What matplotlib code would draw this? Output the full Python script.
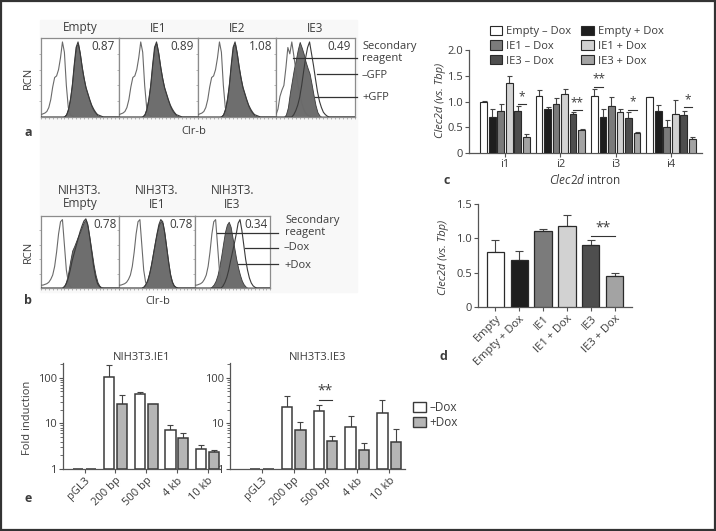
import numpy as np
import matplotlib
matplotlib.use('Agg')
import matplotlib.pyplot as plt
from matplotlib.patches import Rectangle, Patch

plt.rcParams['font.family'] = ['Open Sans', 'DejaVu Sans']
plt.rcParams['mathtext.fontset'] = 'custom'
plt.rcParams['mathtext.it'] = 'Open Sans:italic'
plt.rcParams['mathtext.rm'] = 'Open Sans'
TXT = '#3c3c3c'
plt.rcParams['text.color'] = TXT
plt.rcParams['xtick.color'] = '#555555'
plt.rcParams['ytick.color'] = '#555555'
plt.rcParams['xtick.labelcolor'] = TXT
plt.rcParams['ytick.labelcolor'] = TXT

# ---------------- data ----------------
# flow histograms (relative cell number, %) sampled on channel grid 0..100 step 2.5
channel = np.arange(0, 100.1, 2.5)
a_titles = ['Empty', 'IE1', 'IE2', 'IE3']
a_ratios = ['0.87', '0.89', '1.08', '0.49']
a_sec = [3, 4, 5, 7, 12, 22, 38, 50, 52, 60, 75, 95, 82, 40, 12, 3, 1] + [0] * 24
a_neg = [0] * 13 + [2, 8, 20, 38, 65, 88, 95, 82, 65, 50, 38, 30, 22, 15, 10, 6, 3, 2, 1] + [0] * 9
a_pos = [0] * 12 + [1, 4, 12, 25, 45, 70, 90, 93, 80, 62, 48, 36, 28, 20, 13, 8, 5, 2, 1, 0] + [0] * 9
a_ie3_sec = [3, 10, 26, 34, 40, 62, 88, 80, 95, 78, 60, 42, 30, 18, 10, 5, 2, 1] + [0] * 23
a_ie3_pos = [0] * 5 + [3, 12, 30, 45, 60, 72, 85, 95, 88, 80, 70, 62, 55, 42, 28, 15, 6, 2] + [0] * 18
a_ie3_neg = [0] * 9 + [3, 8, 15, 25, 40, 58, 75, 88, 95, 80, 65, 48, 32, 20, 12, 6, 3, 1] + [0] * 14

b_titles = ['NIH3T3.\nEmpty', 'NIH3T3.\nIE1', 'NIH3T3.\nIE3']
b_ratios = ['0.78', '0.78', '0.34']
b_sec = [4, 4, 5, 6, 8, 12, 18, 30, 50, 75, 92, 95, 60, 25, 8, 2] + [0] * 25
b_empty_pos = [0] * 11 + [0, 3, 10, 22, 38, 52, 58, 65, 72, 78, 85, 92, 95, 85, 68, 50, 32, 18, 8, 3, 1] + [0] * 9
b_empty_neg = [0] * 11 + [0, 2, 6, 14, 25, 38, 48, 58, 68, 78, 86, 93, 96, 88, 70, 50, 30, 15, 6, 2, 0] + [0] * 9
b_ie1_pos = [0] * 12 + [0, 2, 6, 12, 22, 35, 50, 65, 78, 88, 93, 90, 75, 55, 35, 18, 8, 3, 1, 0] + [0] * 9
b_ie1_neg = [0] * 12 + [0, 1, 4, 9, 18, 30, 45, 60, 75, 88, 95, 92, 78, 58, 38, 20, 9, 3, 1, 0] + [0] * 9
b_ie3_pos = [0] * 8 + [0, 2, 5, 10, 18, 30, 45, 62, 78, 88, 92, 85, 70, 55, 40, 28, 18, 10, 5, 2, 0] + [0] * 12
b_ie3_neg = [0] * 14 + [0, 3, 8, 15, 25, 38, 50, 62, 75, 90, 95, 80, 60, 40, 25, 14, 7, 3, 1, 0] + [0] * 7

# panel c
c_groups = ['i1', 'i2', 'i3', 'i4']
c_series = ['Empty \u2013 Dox', 'Empty + Dox', 'IE1 \u2013 Dox', 'IE1 + Dox', 'IE3 \u2013 Dox', 'IE3 + Dox']
c_empty_minus = [0.99, 1.10, 1.11, 1.08]
c_empty_minus_err = [0.02, 0.13, 0.14, 0.01]
c_empty_plus = [0.69, 0.85, 0.70, 0.81]
c_empty_plus_err = [0.16, 0.05, 0.16, 0.12]
c_ie1_minus = [0.82, 0.96, 0.92, 0.51]
c_ie1_minus_err = [0.13, 0.10, 0.16, 0.13]
c_ie1_plus = [1.35, 1.14, 0.79, 0.75]
c_ie1_plus_err = [0.15, 0.10, 0.07, 0.28]
c_ie3_minus = [0.81, 0.75, 0.68, 0.74]
c_ie3_minus_err = [0.10, 0.04, 0.11, 0.08]
c_ie3_plus = [0.31, 0.44, 0.38, 0.28]
c_ie3_plus_err = [0.05, 0.03, 0.03, 0.03]
c_sig = [(0, 4, 5, 0.95, '*'), (1, 4, 5, 0.83, '**'), (2, 0, 1, 1.29, '**'),
         (2, 4, 5, 0.84, '*'), (3, 4, 5, 0.89, '*')]

# panel d
d_labels = ['Empty', 'Empty + Dox', 'IE1', 'IE1 + Dox', 'IE3', 'IE3 + Dox']
d_vals = [0.80, 0.68, 1.10, 1.18, 0.91, 0.45]
d_err = [0.17, 0.13, 0.03, 0.16, 0.06, 0.05]
d_sig = [(4, 5, 1.03, '**')]

# panel e
e_cats = ['pGL3', '200 bp', '500 bp', '4 kb', '10 kb']
e_ie1_minus = [1.0, 105, 43, 7.0, 2.8]
e_ie1_minus_err = [0, 85, 5, 2.0, 0.5]
e_ie1_plus = [1.0, 27, 26, 4.8, 2.3]
e_ie1_plus_err = [0, 15, 1, 1.5, 0.3]
e_ie3_minus = [1.0, 23, 18.5, 8.5, 17]
e_ie3_minus_err = [0, 17, 6.5, 6, 16]
e_ie3_plus = [1.0, 7, 4.2, 2.6, 4.0]
e_ie3_plus_err = [0, 3.5, 1.0, 1.1, 3.5]
e_sig_ie3 = [(2, 33, '**')]

# ---------------- figure ----------------
W, H = 716, 531
fig = plt.figure(figsize=(W / 100, H / 100), dpi=100)


def ax_px(x0, y0, x1, y1):
    return fig.add_axes([x0 / W, 1 - y1 / H, (x1 - x0) / W, (y1 - y0) / H])


def T(x, y, s, **kw):
    kw.setdefault('fontsize', 8)
    kw.setdefault('ha', 'center')
    kw.setdefault('va', 'center')
    return fig.text(x / W, 1 - y / H, s, **kw)


# faint background behind flow panels, and outer frame
fig.patches.append(Rectangle((40 / W, 1 - 292 / H), 317 / W, 272 / H, transform=fig.transFigure,
                             color='#f8f8f8', zorder=-10))
fig.patches.append(Rectangle((0.0015, 0.002), 0.997, 0.996, transform=fig.transFigure,
                             fill=False, ec='#333333', lw=1.6, zorder=10))


def hist_ax(box, sec, neg, pos):
    ax = ax_px(*box)
    ax.set_facecolor('white')
    ax.fill_between(channel, 0, pos, color='#6e6e6e', lw=0.6, ec='#3a3a3a', zorder=2)
    ax.plot(channel, sec, color='#6a6a6a', lw=0.8, zorder=3)
    ax.plot(channel, neg, color='#3a3a3a', lw=0.8, zorder=3)
    ax.set_xlim(0, 100)
    ax.set_ylim(0, 100)
    ax.set_xticks(np.arange(0, 101, 5))
    ax.set_yticks([20, 40, 60, 80])
    ax.tick_params(length=1.5, width=0.5, labelleft=False, labelbottom=False, color='#999999')
    for s in ax.spines.values():
        s.set_color('#8c8c8c')
        s.set_linewidth(0.9)
    return ax


# panel a
a_boxes = [(41, 38, 119, 117), (119, 38, 198, 117), (198, 38, 276, 117), (276, 38, 355, 117)]
a_data = [(a_sec, a_neg, a_pos)] * 3 + [(a_ie3_sec, a_ie3_neg, a_ie3_pos)]
a_axes = []
for box, (s, n, p), t, r in zip(a_boxes, a_data, a_titles, a_ratios):
    ax = hist_ax(box, s, n, p)
    a_axes.append(ax)
    T((box[0] + box[2]) / 2, 28, t, fontsize=8.5)
    ax.text(0.95, 0.89, r, transform=ax.transAxes, ha='right', va='center', fontsize=8.5)
ax = a_axes[3]
for x0, y in [(21.5, 74.7), (52, 54.4), (49, 25.3)]:
    ax.plot([x0, 102.5], [y, y], color='#333333', lw=0.9, clip_on=False, zorder=5)
T(362, 46, 'Secondary', ha='left')
T(362, 58, 'reagent', ha='left')
T(362, 75, '\u2013GFP', ha='left')
T(362, 97, '+GFP', ha='left')
T(28, 78, 'RCN', rotation=90)
T(194, 132, 'Clr-b')
T(28, 132, 'a', fontweight='bold', fontsize=9)

# panel b
b_boxes = [(41, 216, 119, 288), (119, 216, 195, 288), (195, 216, 270, 288)]
b_data = [(b_sec, b_empty_neg, b_empty_pos), (b_sec, b_ie1_neg, b_ie1_pos), (b_sec, b_ie3_neg, b_ie3_pos)]
b_axes = []
for box, (s, n, p), t, r in zip(b_boxes, b_data, b_titles, b_ratios):
    ax = hist_ax(box, s, n, p)
    b_axes.append(ax)
    T((box[0] + box[2]) / 2, 197, t, fontsize=8.5, linespacing=1.1)
    ax.text(0.97, 0.88, r, transform=ax.transAxes, ha='right', va='center', fontsize=8.5)
ax = b_axes[2]
for x0, y in [(29, 76.4), (66.7, 55.6), (57.3, 33.3)]:
    ax.plot([x0, 110.5], [y, y], color='#333333', lw=0.9, clip_on=False, zorder=5)
T(285, 221, 'Secondary', ha='left')
T(285, 233, 'reagent', ha='left')
T(284, 248, '\u2013Dox', ha='left')
T(284, 265, '+Dox', ha='left')
T(28, 252, 'RCN', rotation=90)
T(158, 301, 'Clr-b')
T(28, 301, 'b', fontweight='bold', fontsize=9)

bar_colors = ['#ffffff', '#1e1e1e', '#7b7b7b', '#d2d2d2', '#4e4e4e', '#a3a3a3']
EDGE = '#2a2a2a'


def style_axes(ax):
    for side in ['top', 'right']:
        ax.spines[side].set_visible(False)
    for side in ['left', 'bottom']:
        ax.spines[side].set_color('#555555')
        ax.spines[side].set_linewidth(0.9)
    ax.tick_params(length=3, width=0.8, labelsize=8, pad=1.5)


# panel c
axc = ax_px(469, 50, 702, 153)
style_axes(axc)
c_vals = [c_empty_minus, c_empty_plus, c_ie1_minus, c_ie1_plus, c_ie3_minus, c_ie3_plus]
c_errs = [c_empty_minus_err, c_empty_plus_err, c_ie1_minus_err, c_ie1_plus_err, c_ie3_minus_err, c_ie3_plus_err]
gx = np.arange(len(c_groups))
step, bw = 0.154, 0.12
handles = []
for k, (v, e) in enumerate(zip(c_vals, c_errs)):
    xs = gx + (k - 2.5) * step
    h = axc.bar(xs, v, bw, color=bar_colors[k], edgecolor=EDGE, lw=0.8, zorder=3)
    axc.errorbar(xs, v, yerr=[np.zeros(len(v)), e], fmt='none', ecolor='#444444',
                 elinewidth=0.8, capsize=1.8, capthick=0.8, zorder=2)
    handles.append(h)
for g, i, j, y, s in c_sig:
    x1, x2 = g + (i - 2.5) * step, g + (j - 2.5) * step
    axc.plot([x1, x2], [y, y], color='#333333', lw=0.8)
    axc.text((x1 + x2) / 2, y + 0.02, s, ha='center', va='bottom', fontsize=8.5)
axc.set_xlim(-0.65, 3.56)
axc.set_ylim(0, 2.0)
axc.set_yticks([0, 0.5, 1.0, 1.5, 2.0])
axc.set_yticklabels(['0', '0.5', '1.0', '1.5', '2.0'])
axc.set_xticks(gx)
axc.set_xticklabels(c_groups)
order = [0, 2, 4, 1, 3, 5]
fig.legend([handles[i] for i in order], [c_series[i] for i in order], ncol=2, loc='upper left',
           bbox_to_anchor=(484 / W, 1 - 20 / H), frameon=False, fontsize=8, columnspacing=0.9,
           handlelength=1.1, handleheight=0.9, handletextpad=0.4, labelspacing=0.3, borderpad=0)
T(441, 100, 'Clec2d (vs. Tbp)', rotation=90, fontstyle='italic')
T(585, 180, r'$\it{Clec2d}$ intron', fontsize=8.5)
T(447, 181, 'c', fontweight='bold', fontsize=9)

# panel d
axd = ax_px(478, 204, 632, 307)
style_axes(axd)
dx = np.arange(len(d_labels))
axd.bar(dx, d_vals, 0.71, color=bar_colors, edgecolor=EDGE, lw=0.9, zorder=3)
axd.errorbar(dx, d_vals, yerr=[np.zeros(len(d_vals)), d_err], fmt='none', ecolor='#444444',
             elinewidth=0.8, capsize=3, capthick=0.8, zorder=2)
for i, j, y, s in d_sig:
    axd.plot([i, j], [y, y], color='#333333', lw=0.8)
    axd.text((i + j) / 2, y + 0.01, s, ha='center', va='bottom', fontsize=10)
axd.set_xlim(-0.71, 5.71)
axd.set_ylim(0, 1.5)
axd.set_yticks([0, 0.5, 1.0, 1.5])
axd.set_yticklabels(['0', '0.5', '1.0', '1.5'])
axd.set_xticks(dx)
axd.set_xticklabels(d_labels, rotation=45, ha='right', rotation_mode='anchor')
T(444, 257, 'Clec2d (vs. Tbp)', rotation=90, fontstyle='italic')
T(443, 357, 'd', fontweight='bold', fontsize=9)


# panel e
def e_panel(box, minus, minus_err, plus, plus_err, title, xlim, sig):
    ax = ax_px(*box)
    style_axes(ax)
    ax.set_yscale('log')
    ex = np.arange(len(e_cats))
    off, w = 0.21, 0.33
    for xs, v, e, c in [(ex - off, minus, minus_err, 'white'), (ex + off, plus, plus_err, '#b5b5b5')]:
        ax.bar(xs, np.array(v) - 1, w, bottom=1, color=c, edgecolor='#3a3a3a', lw=1.1, zorder=3)
        m = np.array(e) > 0
        ax.errorbar(xs[m], np.array(v)[m], yerr=[np.zeros(m.sum()), np.array(e)[m]], fmt='none',
                    ecolor='#444444', elinewidth=0.8, capsize=2.5, capthick=0.8, zorder=2)
    for g, y, s in sig:
        ax.plot([g - off, g + off], [y, y], color='#333333', lw=0.8)
        ax.text(g, y * 1.08, s, ha='center', va='bottom', fontsize=10)
    ax.set_ylim(1, 210)
    ax.set_xlim(*xlim)
    ax.set_yticks([1, 10, 100])
    ax.set_yticklabels(['1', '10', '100'])
    ax.tick_params(which='minor', length=2, width=0.6)
    ax.set_xticks(ex)
    ax.set_xticklabels(e_cats, rotation=45, ha='right', rotation_mode='anchor')
    ax.set_title(title, fontsize=8, pad=1, color=TXT)
    return ax


e_panel((63, 363, 220, 469), e_ie1_minus, e_ie1_minus_err, e_ie1_plus, e_ie1_plus_err,
        'NIH3T3.IE1', (-0.7, 4.4), [])
e_panel((230, 363, 405, 469), e_ie3_minus, e_ie3_minus_err, e_ie3_plus, e_ie3_plus_err,
        'NIH3T3.IE3', (-1.0, 4.5), e_sig_ie3)
fig.legend([Patch(fc='white', ec='#3a3a3a'), Patch(fc='#b5b5b5', ec='#3a3a3a')],
           ['\u2013Dox', '+Dox'], loc='upper left', bbox_to_anchor=(407 / W, 1 - 395 / H),
           frameon=False, fontsize=8.5, handlelength=1.1, handleheight=0.9, handletextpad=0.3,
           labelspacing=0.15, borderpad=0)
T(28, 418, 'Fold induction', rotation=90)
T(28, 499, 'e', fontweight='bold', fontsize=9)

fig.savefig('out.png', dpi=100)
